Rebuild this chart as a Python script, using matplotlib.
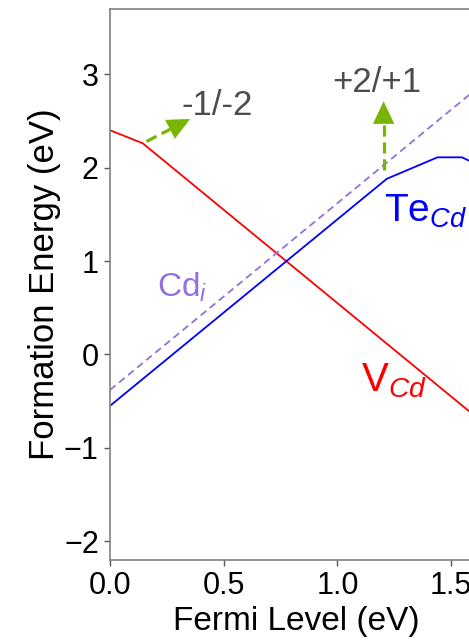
import matplotlib
matplotlib.use("Agg")
import matplotlib.pyplot as plt

plt.rcParams['font.family'] = ['Liberation Sans', 'DejaVu Sans']
plt.rcParams['mathtext.fontset'] = 'custom'
plt.rcParams['mathtext.rm'] = 'Liberation Sans'
plt.rcParams['mathtext.it'] = 'Liberation Sans:italic'

# formation energy vs Fermi level (eV)
v_cd_x = [0.0, 0.144, 1.6]
v_cd_y = [2.40, 2.26, -0.65]
te_cd_x = [0.0, 1.217, 1.44, 1.547, 1.6]
te_cd_y = [-0.55, 1.88, 2.11, 2.11, 2.05]
cd_i_x = [0.0, 1.6]
cd_i_y = [-0.38, 2.82]

# transition level arrows: (tail, tip)
arrow_tails = [(0.161, 2.28), (1.203, 1.97)]
arrow_tips = [(0.352, 2.52), (1.203, 2.71)]
arrow_labels = ['-1/-2', '+2/+1']
label_pos = [(0.315, 2.56), (0.975, 2.81)]

green = '#77b500'

fig = plt.figure(figsize=(4.69, 6.44), dpi=100)
ax = fig.add_axes([0.2345, 0.1304, 0.776, 0.856])

ax.plot(v_cd_x, v_cd_y, color='red', lw=1.3)
ax.plot(te_cd_x, te_cd_y, color='blue', lw=1.3)
ax.plot(cd_i_x, cd_i_y, color='mediumpurple', lw=1.3, ls=(0, (4, 2.5)))

for (tx, ty), (hx, hy), lab, (lx, ly) in zip(arrow_tails, arrow_tips, arrow_labels, label_pos):
    # dashed shaft, solid head
    fx = tx + 0.85 * (hx - tx)
    fy = ty + 0.85 * (hy - ty)
    ax.plot([tx, fx], [ty, fy], color=green, lw=2.3, ls=(0, (3.5, 1.8)))
    ax.annotate('', xy=(hx, hy), xytext=(fx, fy),
                arrowprops=dict(arrowstyle='-|>,head_length=0.7,head_width=0.33',
                                color=green, lw=0.5, mutation_scale=22,
                                shrinkA=0, shrinkB=0))
    ax.text(lx, ly, lab, fontsize=25, color='#4d4d4d', ha='left', va='baseline')

ax.text(1.203, 1.42, 'Te$_{Cd}$', color='blue', fontsize=28, ha='left', va='baseline')
ax.text(0.205, 0.62, 'Cd$_{i}$', color='mediumpurple', fontsize=24, ha='left', va='baseline')
ax.text(1.103, -0.40, 'V$_{Cd}$', color='red', fontsize=29, ha='left', va='baseline')

ax.set_xlim(0, 1.6)
ax.set_ylim(-2.2, 3.7)
ax.set_xticks([0.0, 0.5, 1.0, 1.5])
ax.set_yticks([-2, -1, 0, 1, 2, 3])
ax.set_xticklabels(['0.0', '0.5', '1.0', '1.5'])
ax.set_xlabel('Fermi Level (eV)', fontsize=24)
ax.set_ylabel('Formation Energy (eV)', fontsize=25)
ax.xaxis.set_label_coords(0.513, -0.083)
ax.yaxis.set_label_coords(-0.135, 0.5)
ax.tick_params(labelsize=22, length=4, width=1, color='#555555', pad=4)
for s in ax.spines.values():
    s.set_color('#808080')
    s.set_linewidth(1.2)

fig.savefig('out.png', dpi=100)
